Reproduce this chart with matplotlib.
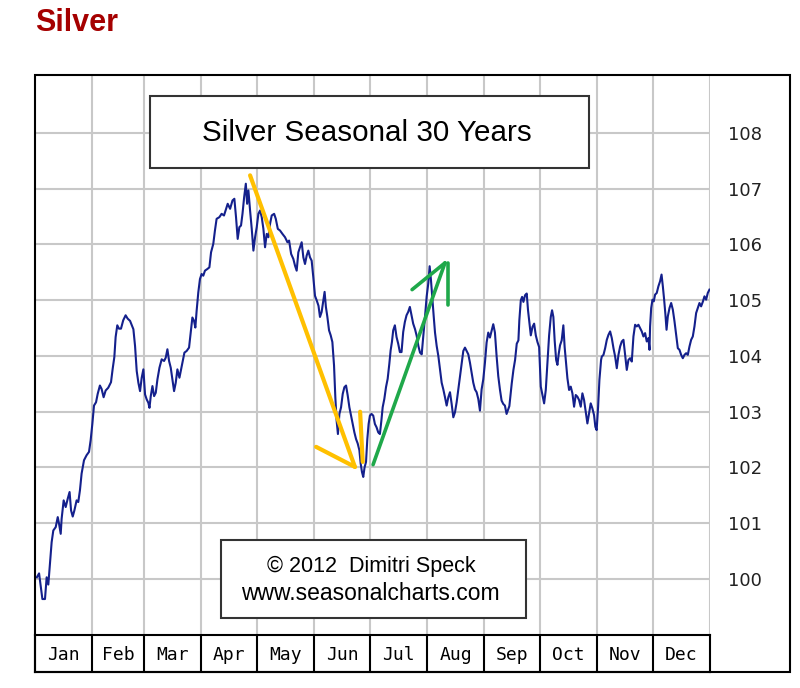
import matplotlib
matplotlib.use("Agg")
import matplotlib.pyplot as plt
from matplotlib.patches import Rectangle

# ---------------- data ----------------
months = ["Jan", "Feb", "Mar", "Apr", "May", "Jun", "Jul", "Aug", "Sep", "Oct", "Nov", "Dec"]
month_edges = [0, 31, 59, 90, 120, 151, 181, 212, 243, 273, 304, 334, 365]
y_ticks = [100, 101, 102, 103, 104, 105, 106, 107, 108]

day = [1, 2.2, 3.2, 4, 5.4, 6.3, 7.2, 8.1, 9, 9.9, 11.2, 12.3, 13, 13.9, 14.4, 15.5, 16.6, 17.7, 18.7,
       19.5, 20.4, 21.3, 22.5, 23.4, 24.3, 25.2, 26.5, 27.9, 29.2, 30.1, 31, 31.9, 33, 33.9, 35.1, 36,
       37.1, 38.2, 39.6, 41.1, 42, 42.9, 43.6, 44.5, 45.4, 46.5, 47.7, 49, 50.1,
       51.4, 53.2, 54.1, 55, 55.9, 56.8, 57.7, 58.6, 59.5, 60.4, 61.3, 61.9, 62.6, 63.5, 64.4, 65.3,
       66.2, 67.3, 68.5, 69.8, 70.7, 71.6, 72.5, 73.4, 74.3, 75.2, 76.1, 77, 78.1, 79, 79.9, 80.8, 82,
       83.3, 84.2, 85.1, 86, 86.7, 87.4, 88.3, 89.2, 90.1, 91, 91.9, 93.2, 94.3, 95.2, 96.4, 97.3, 98.2,
       99.7, 100.9, 102.2,
       104.2, 105.5, 106.8, 107.8, 108.7, 109.6, 110.5, 111.4, 112.2, 113.1, 114, 114.7, 115.4, 116.3,
       117.2, 118.1, 119, 119.9, 120.8, 121.7, 122.6, 123.5, 124.4, 125.3, 126.2, 127.1, 128, 129.3,
       130.2, 131.3, 132.5, 133.8, 135.2, 136.5, 137.4, 138.5, 139.7, 140.6, 141.5, 142.4, 143.3, 144.2,
       145.1, 146, 146.9, 147.8, 148.7, 149.6, 150.5, 151.4, 152.4, 153.3,
       154.1, 155, 155.9, 156.6, 157.3, 158.1, 159, 159.9, 160.8, 161.7, 162.4, 163.1, 163.8, 164.6,
       165.5, 166.4, 167.3, 168.2, 169.1, 170, 170.9, 171.8, 172.7, 173.6, 174.5, 175.4, 176.1, 176.8,
       177.5, 178.2, 179, 179.7, 180.4, 181.1, 182, 182.9, 183.8, 184.7, 185.6, 186.5, 187.3, 188,
       188.9, 189.8, 190.7, 191.6, 192.3, 193, 193.7, 194.6, 195.5, 196.4, 197.3, 198.2, 199.1, 200,
       200.9, 201.8, 202.7, 203.6, 204.5,
       205.5, 206.4, 207.3, 208.2, 209.1, 210, 210.9, 211.8, 212.7, 213.4, 214.1, 214.9, 215.6, 216.3,
       217.2, 218.1, 219, 219.9, 220.8, 221.7, 222.6, 223.5, 224.4, 225.3, 226.2, 227.1, 228, 228.9,
       229.8, 230.7, 231.6, 232.5, 233.4, 234.3, 235.2, 236.1, 237, 237.9, 238.8, 239.7, 240.6, 241.5,
       242.4, 243.3, 244.2, 245.1, 246, 246.9, 247.8, 248.7, 249.6, 250.5, 251.4, 252.3, 253.2, 254.1,
       255,
       256.5, 257.8, 258.7, 259.6, 260.5, 261.4, 261.9, 262.7, 263.4, 264.1, 265, 265.9, 266.6, 267.4,
       268.1, 269, 269.9, 270.8, 271.7, 272.6, 273.5, 274.4, 275.3, 276.2, 277.1, 278, 278.9, 279.6,
       280.3, 281, 281.8, 282.5, 283.2, 283.9, 284.8, 285.7, 286.4, 287.2, 287.9, 288.8, 289.7, 290.6,
       291.5, 292.4, 293.3, 294.2, 295.1, 296, 296.9, 297.8, 298.7, 299.6, 300.5, 301.4, 302.3, 303,
       303.7, 304.5, 305.2,
       306.1, 306.5, 307.4, 308.3, 309.2, 310.1, 311, 311.9, 312.8, 313.7, 314.6, 315.5, 316.4, 317.3,
       318.2, 318.8, 319.5, 320, 320.9, 321.8, 322.7, 323.6, 324.5, 325.4, 326.3, 327.2, 328.1, 329,
       329.9, 330.8, 331.7, 332.3, 332.6, 333.2, 333.9, 334.6, 335.3, 336.2, 337.1, 338, 338.8, 339.5,
       340.2, 340.9, 341.5, 342.2, 343.1, 344, 344.9, 345.8, 346.7, 347.6, 348.5, 349.4, 350.3, 351.2,
       352.1, 353, 353.9, 354.8, 355.7, 356.6, 357.5, 358.4, 359.3, 360.2, 361.2, 362, 362.9, 363.8,
       364.7]

value = [100.03, 100.1, 99.85, 99.64, 99.64, 100.03, 99.9, 100.27, 100.66, 100.87, 100.93, 101.11,
         100.99, 100.81, 101.08, 101.41, 101.29, 101.44, 101.56, 101.23, 101.12, 101.23, 101.41, 101.38,
         101.59, 101.89, 102.13, 102.22, 102.28, 102.49, 102.78, 103.11, 103.17, 103.32, 103.47, 103.41,
         103.26, 103.38, 103.43, 103.53, 103.77, 103.98, 104.34, 104.55, 104.49, 104.49, 104.64, 104.73,
         104.67,
         104.63, 104.48, 104.18, 103.73, 103.52, 103.37, 103.61, 103.76, 103.31, 103.22, 103.16, 103.07,
         103.28, 103.46, 103.28, 103.34, 103.58, 103.79, 103.94, 103.91, 103.97, 104.12, 103.91, 103.79,
         103.58, 103.37, 103.52, 103.76, 103.61, 103.76, 103.91, 104.06, 104.09, 104.15, 104.42, 104.69,
         104.63, 104.51, 104.81, 105.14, 105.38, 105.47, 105.44, 105.53, 105.56, 105.59, 105.86, 106.01,
         106.25, 106.46, 106.49, 106.55, 106.52,
         106.73, 106.64, 106.79, 106.82, 106.49, 106.1, 106.31, 106.34, 106.55, 106.85, 107.09, 106.73,
         106.97, 106.61, 106.28, 105.89, 106.13, 106.31, 106.55, 106.61, 106.49, 106.28, 105.95, 106.19,
         106.13, 106.37, 106.52, 106.55, 106.46, 106.28, 106.25, 106.19, 106.13, 106.04, 106.07, 105.83,
         105.74, 105.62, 105.53, 105.86, 105.95, 106.04, 105.77, 105.65, 105.80, 105.89, 105.77, 105.71,
         105.41, 105.08, 104.99, 104.90,
         104.7, 104.79, 105.0, 105.15, 104.88, 104.7, 104.46, 104.37, 104.25, 103.83, 103.26, 102.84,
         102.6, 102.96, 103.08, 103.32, 103.44, 103.47, 103.29, 103.08, 102.93, 102.78, 102.63, 102.51,
         102.43, 102.31, 102.07, 101.92, 101.83, 102.0, 102.1, 102.51, 102.78, 102.93, 102.96, 102.93,
         102.78, 102.72, 102.63, 102.6, 102.84, 103.08, 103.23, 103.44, 103.59, 103.86, 104.1, 104.25,
         104.46, 104.55, 104.34, 104.22, 104.07, 104.07, 104.43, 104.61, 104.73, 104.79, 104.88, 104.73,
         104.58,
         104.48, 104.36, 104.18, 104.06, 104.03, 104.36, 104.71, 105.07, 105.31, 105.61, 105.37, 105.01,
         104.71, 104.42, 104.18, 104.0, 103.76, 103.52, 103.4, 103.26, 103.11, 103.26, 103.35, 103.14,
         102.9, 102.99, 103.17, 103.4, 103.64, 103.85, 104.09, 104.15, 104.09, 104.03, 103.88, 103.70,
         103.52, 103.4, 103.35, 103.23, 103.02, 103.4, 103.58, 103.88, 104.24, 104.42, 104.33, 104.45,
         104.57, 104.42, 104.0, 103.64, 103.4, 103.2, 103.14, 103.11, 102.96,
         103.1, 103.51, 103.75, 103.93, 104.22, 104.28, 104.64, 105.0, 105.06, 104.97, 105.09, 105.12,
         104.82, 104.58, 104.37, 104.52, 104.58, 104.37, 104.25, 104.16, 103.45, 103.3, 103.15, 103.39,
         103.87, 104.37, 104.7, 104.82, 104.7, 104.28, 103.93, 103.84, 104.04, 104.19, 104.28, 104.55,
         104.16, 103.87, 103.6, 103.39, 103.45, 103.33, 103.09, 103.3, 103.27, 103.21, 103.09, 103.33,
         103.21, 103.0, 102.79, 102.97, 103.15, 103.06, 102.94, 102.73, 102.67, 103.09, 103.57,
         103.93, 103.99, 104.02, 104.14, 104.29, 104.38, 104.44, 104.32, 104.14, 103.99, 103.78, 104.02,
         104.17, 104.26, 104.29, 104.11, 103.9, 103.75, 103.93, 103.96, 103.9, 104.35, 104.56, 104.53,
         104.56, 104.5, 104.44, 104.35, 104.41, 104.26, 104.32, 104.11, 104.53, 104.86, 105.01, 104.98,
         105.10, 105.13, 105.25, 105.34, 105.46, 105.25, 105.01, 104.74, 104.47, 104.71, 104.86, 104.95,
         104.83, 104.62, 104.38, 104.14, 104.11, 104.02, 103.96, 104.02, 104.05, 104.02, 104.17, 104.29,
         104.35, 104.53, 104.77, 104.86, 104.95, 104.89, 104.98, 105.07, 105.01, 105.13, 105.19]

# hand-drawn arrows (day, value)
orange_lines = [([116.3, 173.0], [107.24, 102.01]),
                ([152.0, 173.0], [102.37, 102.01]),
                ([175.8, 177.2], [103.0, 102.1])]
green_lines = [([182.8, 221.7], [102.05, 105.67]),
               ([203.9, 221.7], [105.19, 105.67]),
               ([223.4, 223.4], [105.67, 104.92])]

header = "Silver"
chart_title = "Silver Seasonal 30 Years"
credit_lines = ["\u00a9 2012  Dimitri Speck", "www.seasonalcharts.com"]

# ---------------- layout helpers ----------------
W, H = 800, 688
def fx(px):
    return px / W
def fy(py):
    return 1 - py / H

fig = plt.figure(figsize=(W / 100, H / 100), dpi=100)
fig.patch.set_facecolor("white")

grid_c = "#c8c8c8"

ax = fig.add_axes([fx(35), fy(635), fx(710) - fx(35), fy(75) - fy(635)])
ax.set_xlim(0, 365)
ax.set_ylim(98.995, 109.04)
ax.set_xticks(month_edges[1:])
ax.set_xticklabels([])
ax.set_yticks(y_ticks)
ax.set_yticklabels([str(t) for t in y_ticks])
ax.yaxis.tick_right()
ax.tick_params(axis="x", length=0)
ax.tick_params(axis="y", length=0, pad=13, labelsize=13, labelcolor="#222222")
for lab in ax.get_yticklabels():
    lab.set_fontfamily("DejaVu Sans")
ax.grid(True, color=grid_c, linewidth=1.5)
ax.set_axisbelow(True)
for s in ax.spines.values():
    s.set_visible(False)

ax.plot(day, value, color="#14208c", linewidth=1.5, zorder=3)
for xs, ys in orange_lines:
    ax.plot(xs, ys, color="#ffc000", linewidth=3.0, solid_capstyle="round", zorder=4)
for xs, ys in green_lines:
    ax.plot(xs, ys, color="#1fa84a", linewidth=2.6, solid_capstyle="round", zorder=4)

# month row
axm = fig.add_axes([fx(35), fy(672), fx(710) - fx(35), fy(635) - fy(672)])
axm.set_xlim(0, 365)
axm.set_ylim(0, 1)
axm.set_xticks([])
axm.set_yticks([])
for s in axm.spines.values():
    s.set_color("black")
    s.set_linewidth(1.5)
for e in month_edges[1:-1]:
    axm.axvline(e, color="black", linewidth=1.5)
for i, m in enumerate(months):
    c = (month_edges[i] + month_edges[i + 1]) / 2
    axm.text(c, 0.45, m, ha="center", va="center", fontsize=13,
             family="DejaVu Sans Mono", color="black")

# outer frame
fig.patches.append(Rectangle((fx(35), fy(672)), fx(790) - fx(35), fy(75) - fy(672),
                             transform=fig.transFigure, fill=False, ec="black", lw=1.5, zorder=5))

# title box
fig.patches.append(Rectangle((fx(150), fy(168)), fx(589) - fx(150), fy(96) - fy(168),
                             transform=fig.transFigure, fc="white", ec="#333333", lw=1.5, zorder=5))
fig.text(fx(367), fy(133), chart_title, ha="center", va="center", fontsize=21.3,
         family="Liberation Sans", color="black", zorder=6)

# credit box
fig.patches.append(Rectangle((fx(221), fy(618)), fx(526) - fx(221), fy(540) - fy(618),
                             transform=fig.transFigure, fc="white", ec="#333333", lw=1.5, zorder=5))
fig.text(fx(371), fy(566), credit_lines[0], ha="center", va="center", fontsize=15.5,
         family="Liberation Sans", color="black", zorder=6)
fig.text(fx(370), fy(593), credit_lines[1], ha="center", va="center", fontsize=16.5,
         family="Liberation Sans", color="black", zorder=6)

# header
fig.text(fx(35), fy(23), header, ha="left", va="center", fontsize=22, fontweight="bold",
         family="Liberation Sans", color="#a50000")

fig.savefig("out.png", dpi=100, facecolor="white")
